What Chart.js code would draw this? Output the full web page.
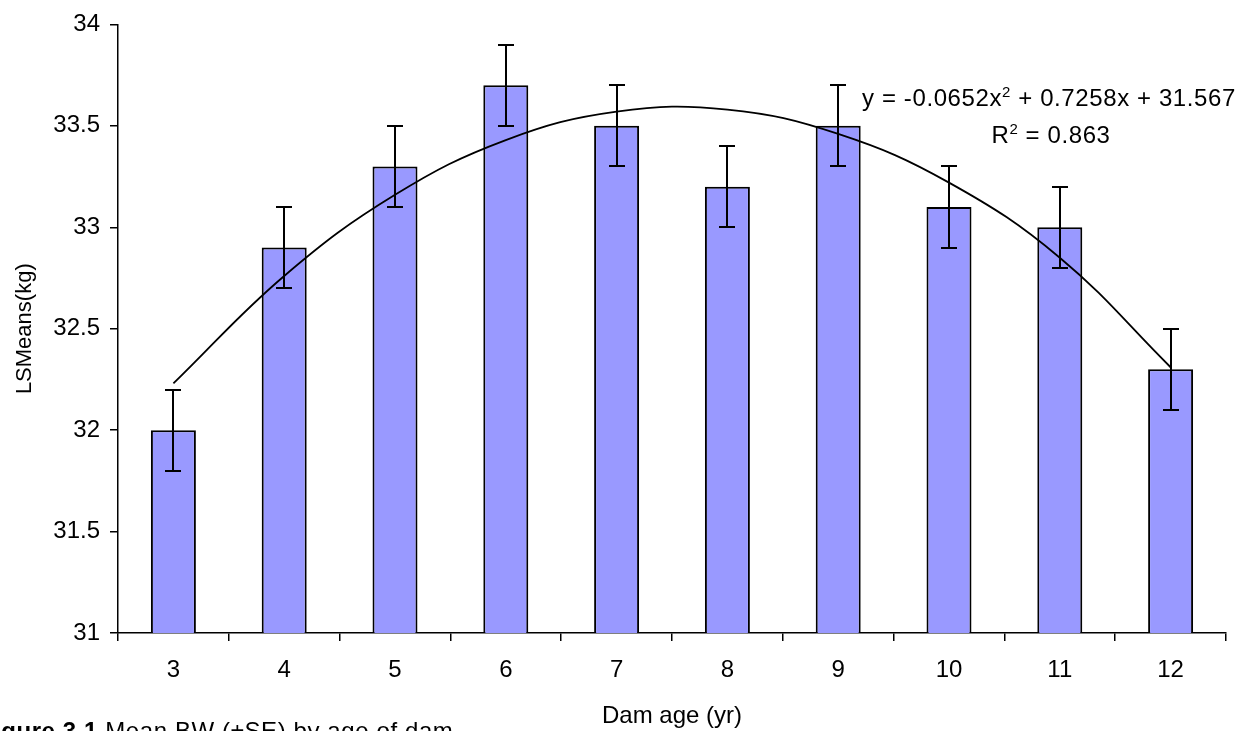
<!DOCTYPE html>
<html>
<head>
<meta charset="utf-8">
<script src="https://cdn.jsdelivr.net/npm/chart.js@4/dist/chart.umd.min.js"></script>
<style>
  html, body { margin: 0; padding: 0; background: #fff; overflow: hidden; }
  #wrap { position: relative; width: 1257px; height: 731px; }
</style>
</head>
<body>
<div id="wrap"><canvas id="c" width="1257" height="731"></canvas></div>
<script>
// Birth weight least-squares means by age of dam
const damAge = ['3', '4', '5', '6', '7', '8', '9', '10', '11', '12'];
const lsMeans = [32.0, 32.9, 33.3, 33.7, 33.5, 33.2, 33.5, 33.1, 33.0, 32.3];
const stdErr = [0.2, 0.2, 0.2, 0.2, 0.2, 0.2, 0.2, 0.2, 0.2, 0.2];
// Polynomial (order 2) trend curve values at each dam age
const trendFit = [32.23, 32.76, 33.16, 33.43, 33.57, 33.58, 33.46, 33.22, 32.85, 32.31];
const yMin = 31, yMax = 34, yStep = 0.5;
const eqLine = ['y = -0.0652x', '2', ' + 0.7258x + 31.567'];
const r2Line = ['R', '2', ' = 0.863'];
const captionBold = 'Figure 3.1';
const captionText = ' Mean BW (\u00B1SE) by age of dam';

const FONT = '"Liberation Sans", Arial, sans-serif';

// Vertical error bars with flat caps
const errorBars = {
  id: 'errorBars',
  afterDatasetsDraw(chart) {
    const meta = chart.getDatasetMeta(0);
    const y = chart.scales.y;
    const ctx = chart.ctx;
    ctx.save();
    ctx.strokeStyle = '#000';
    ctx.lineWidth = 2;
    meta.data.forEach((bar, i) => {
      const top = Math.round(y.getPixelForValue(lsMeans[i] + stdErr[i]));
      const bot = Math.round(y.getPixelForValue(lsMeans[i] - stdErr[i]));
      const x = Math.round(bar.x);
      ctx.beginPath();
      ctx.moveTo(x, top); ctx.lineTo(x, bot);
      ctx.moveTo(x - 8, top); ctx.lineTo(x + 8, top);
      ctx.moveTo(x - 8, bot); ctx.lineTo(x + 8, bot);
      ctx.stroke();
    });
    ctx.restore();
  }
};

// Trend equation, R-squared and figure caption
const annotations = {
  id: 'annotations',
  afterDraw(chart) {
    const ctx = chart.ctx;
    ctx.save();
    ctx.fillStyle = '#000';
    ctx.textBaseline = 'alphabetic';
    ctx.textAlign = 'left';
    if ('letterSpacing' in ctx) ctx.letterSpacing = '0.6px';

    function drawSup(parts, cx, baseline) {
      const main = '24px ' + FONT, sup = '15px ' + FONT;
      ctx.font = main; const w0 = ctx.measureText(parts[0]).width;
      ctx.font = sup;  const w1 = ctx.measureText(parts[1]).width;
      ctx.font = main; const w2 = ctx.measureText(parts[2]).width;
      let x = cx - (w0 + w1 + w2) / 2;
      ctx.font = main; ctx.fillText(parts[0], x, baseline); x += w0;
      ctx.font = sup;  ctx.fillText(parts[1], x, baseline - 9); x += w1;
      ctx.font = main; ctx.fillText(parts[2], x, baseline);
    }
    drawSup(eqLine, 1049, 106);
    drawSup(r2Line, 1051, 143);

    // Figure caption along the bottom edge
    ctx.font = 'bold 24px ' + FONT;
    const bw = ctx.measureText(captionBold).width;
    const cx0 = 98 - bw;
    ctx.fillText(captionBold, cx0, 739);
    ctx.font = '24px ' + FONT;
    ctx.fillText(captionText, cx0 + bw, 739);
    ctx.restore();
  }
};

new Chart(document.getElementById('c'), {
  data: {
    labels: damAge,
    datasets: [
      {
        type: 'bar',
        data: lsMeans,
        backgroundColor: '#9999FF',
        borderColor: '#000',
        borderWidth: 2,
        categoryPercentage: 1,
        barPercentage: 0.406,
        order: 2
      },
      {
        type: 'line',
        data: trendFit,
        borderColor: '#000',
        borderWidth: 1.8,
        pointRadius: 0,
        tension: 0.4,
        fill: false,
        order: 1
      }
    ]
  },
  options: {
    responsive: false,
    animation: false,
    layout: { padding: { top: 21, right: 31, left: 0, bottom: 0 } },
    plugins: { legend: { display: false }, tooltip: { enabled: false } },
    scales: {
      x: {
        grid: { offset: true, drawOnChartArea: false, color: '#000', tickLength: 8, lineWidth: 1.5 },
        border: { display: true, color: '#000', width: 1.5 },
        ticks: { color: '#000', font: { family: FONT, size: 24 }, padding: 15, autoSkip: false, maxRotation: 0 },
        title: { display: true, text: 'Dam age (yr)', color: '#000', font: { family: FONT, size: 24 }, padding: { top: 0, bottom: 0 } },
        afterFit(s) { s.height = 98; }
      },
      y: {
        min: yMin,
        max: yMax,
        grid: { drawOnChartArea: false, color: '#000', tickLength: 8, lineWidth: 1.5 },
        border: { display: true, color: '#000', width: 1.5 },
        ticks: {
          stepSize: yStep, color: '#000', font: { family: FONT, size: 24 }, padding: 10,
          callback: (v) => String(Number(v))
        },
        title: { display: true, text: 'LSMeans(kg)', color: '#000', font: { family: FONT, size: 22 }, padding: { top: 12, bottom: 0 } },
        afterFit(s) { s.width = 118; }
      }
    }
  },
  plugins: [errorBars, annotations]
});
</script>
</body>
</html>
